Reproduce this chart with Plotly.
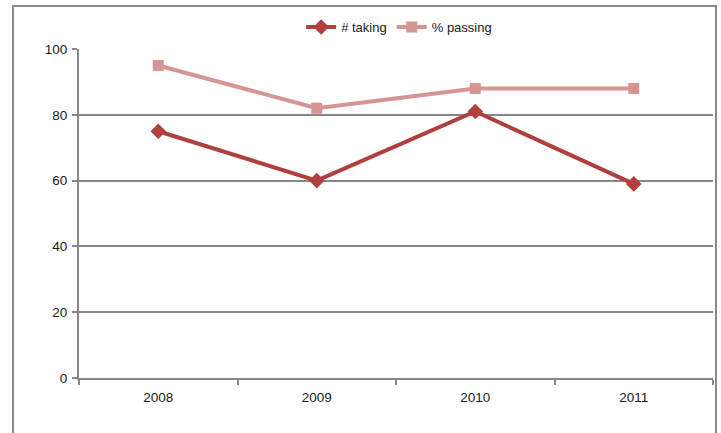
import plotly.graph_objects as go

years = ["2008", "2009", "2010", "2011"]
taking = [75, 60, 81, 59]
passing = [95, 82, 88, 88]

W, H = 721, 433
L, R, T, B = 79, 8, 49, 55
pw, ph = W - L - R, H - T - B

def px_x(x):
    return (x - L) / pw

def px_y(y):
    return (H - B - y) / ph

font = "Liberation Sans, Arial"

fig = go.Figure()
fig.add_trace(go.Scatter(
    x=years, y=taking, name="# taking", mode="lines+markers",
    line=dict(color="#B0403D", width=4),
    marker=dict(symbol="diamond", size=12, color="#B0403D"),
))
fig.add_trace(go.Scatter(
    x=years, y=passing, name="% passing", mode="lines+markers",
    line=dict(color="#D69493", width=4),
    marker=dict(symbol="square", size=11, color="#D69493"),
))

fig.update_layout(
    width=W, height=H,
    margin=dict(l=L, r=R, t=T, b=B, pad=0),
    paper_bgcolor="white", plot_bgcolor="white",
    font=dict(family=font, size=13, color="#1a1a1a"),
    showlegend=True,
    legend=dict(orientation="h", x=0.505, xanchor="center", y=px_y(27), yanchor="middle",
                font=dict(family=font, size=13, color="#1a1a1a"),
                itemwidth=30, tracegroupgap=0, bgcolor="rgba(0,0,0,0)"),
    xaxis=dict(type="category", range=[-0.5, 3.5], showgrid=False,
               showline=True, linecolor="#878787", linewidth=2,
               ticks="outside", tickson="boundaries", ticklen=5, tickcolor="#878787",
               tickwidth=2, tickfont=dict(size=13.5), ticklabelstandoff=6, fixedrange=True),
    yaxis=dict(range=[0, 100], dtick=20, showgrid=True, gridcolor="#878787", gridwidth=2,
               showline=True, linecolor="#878787", linewidth=2,
               ticks="outside", ticklen=5, tickcolor="#878787", tickwidth=2,
               zeroline=False, tickfont=dict(size=13.5), ticklabelstandoff=2, fixedrange=True),
    shapes=[dict(type="rect", xref="paper", yref="paper",
                 x0=px_x(13), x1=px_x(716), y0=px_y(460), y1=px_y(6),
                 line=dict(color="#8A8A8A", width=2), fillcolor="rgba(0,0,0,0)", layer="below")],
)

fig.write_html("out.html")
